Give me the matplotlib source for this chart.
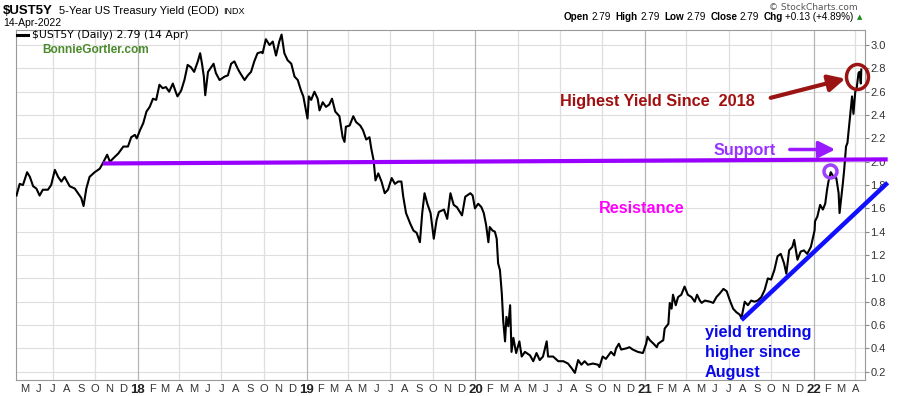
import matplotlib
matplotlib.use('Agg')
import matplotlib.pyplot as plt
from matplotlib.patches import Ellipse, FancyArrowPatch
from matplotlib.lines import Line2D
from matplotlib.transforms import IdentityTransform
import pandas as pd
import numpy as np

# ---------------- data ----------------
dates = [
    "2017-04-14", "2017-04-21", "2017-04-28", "2017-05-07", "2017-05-13", "2017-05-20", "2017-05-27",
    "2017-06-03", "2017-06-10", "2017-06-21", "2017-06-28", "2017-07-06", "2017-07-13", "2017-07-20",
    "2017-07-27", "2017-08-07", "2017-08-18", "2017-08-25", "2017-09-01", "2017-09-06", "2017-09-12",
    "2017-09-19", "2017-09-30", "2017-10-11", "2017-10-18", "2017-10-27", "2017-11-02", "2017-11-12",
    "2017-11-20", "2017-12-01", "2017-12-11", "2017-12-18", "2017-12-26", "2017-12-30",
    "2018-01-06", "2018-01-13", "2018-01-20", "2018-01-27", "2018-02-03", "2018-02-10", "2018-02-17",
    "2018-02-24", "2018-03-03", "2018-03-10", "2018-03-18", "2018-03-25", "2018-03-28", "2018-04-05",
    "2018-04-12", "2018-04-19", "2018-04-26", "2018-05-03", "2018-05-11", "2018-05-16", "2018-05-20",
    "2018-05-24", "2018-05-27", "2018-06-02", "2018-06-09", "2018-06-14", "2018-06-19", "2018-06-27",
    "2018-07-08", "2018-07-15", "2018-07-22", "2018-07-29", "2018-08-05", "2018-08-09", "2018-08-20",
    "2018-08-27", "2018-09-03", "2018-09-10", "2018-09-17", "2018-09-25", "2018-09-28", "2018-10-05",
    "2018-10-13", "2018-10-20", "2018-10-27", "2018-11-03", "2018-11-08", "2018-11-14", "2018-11-21",
    "2018-11-29", "2018-12-06", "2018-12-13", "2018-12-20", "2018-12-25",
    "2019-01-03", "2019-01-06", "2019-01-11", "2019-01-18", "2019-01-25", "2019-01-29", "2019-02-05",
    "2019-02-12", "2019-02-19", "2019-02-25", "2019-03-04", "2019-03-13", "2019-03-20", "2019-03-24",
    "2019-03-27", "2019-04-04", "2019-04-12", "2019-04-18", "2019-04-27", "2019-05-03", "2019-05-10",
    "2019-05-17", "2019-05-21", "2019-05-26", "2019-05-30", "2019-06-05", "2019-06-12", "2019-06-19",
    "2019-06-26", "2019-07-04", "2019-07-11", "2019-07-18", "2019-07-25", "2019-07-29", "2019-08-04",
    "2019-08-13", "2019-08-20", "2019-08-27", "2019-09-03", "2019-09-08", "2019-09-13", "2019-09-19",
    "2019-09-26", "2019-10-03", "2019-10-09", "2019-10-14", "2019-10-25", "2019-11-01", "2019-11-08",
    "2019-11-15", "2019-11-22", "2019-12-03", "2019-12-10", "2019-12-21", "2019-12-26", "2019-12-31",
    "2020-01-07", "2020-01-14", "2020-01-19", "2020-01-24", "2020-01-29", "2020-02-01", "2020-02-07",
    "2020-02-12", "2020-02-16", "2020-02-19", "2020-02-23", "2020-02-27", "2020-03-01", "2020-03-05",
    "2020-03-08", "2020-03-12", "2020-03-16", "2020-03-19", "2020-03-23", "2020-03-29", "2020-04-05",
    "2020-04-10", "2020-04-17", "2020-04-28", "2020-05-05", "2020-05-12", "2020-05-19", "2020-05-26",
    "2020-06-03", "2020-06-06", "2020-06-17", "2020-06-28", "2020-07-09", "2020-07-19", "2020-07-27",
    "2020-08-03", "2020-08-10", "2020-08-17", "2020-08-24", "2020-08-31", "2020-09-11", "2020-09-22",
    "2020-09-25", "2020-10-02", "2020-10-09", "2020-10-20", "2020-10-27", "2020-10-31", "2020-11-06",
    "2020-11-11", "2020-11-22", "2020-11-29", "2020-12-06", "2020-12-17", "2020-12-28",
    "2021-01-04", "2021-01-07", "2021-01-12", "2021-01-20", "2021-01-27", "2021-01-30", "2021-02-06",
    "2021-02-10", "2021-02-13", "2021-02-21", "2021-02-24", "2021-02-28", "2021-03-03", "2021-03-09",
    "2021-03-14", "2021-03-21", "2021-03-28", "2021-04-04", "2021-04-12", "2021-04-19", "2021-04-24",
    "2021-04-30", "2021-05-04", "2021-05-11", "2021-05-22", "2021-05-29", "2021-06-05", "2021-06-12",
    "2021-06-20", "2021-06-27", "2021-07-04", "2021-07-11", "2021-07-18", "2021-07-25", "2021-07-29",
    "2021-08-05", "2021-08-12", "2021-08-19", "2021-08-26", "2021-09-02", "2021-09-10", "2021-09-17",
    "2021-09-24", "2021-10-01", "2021-10-08", "2021-10-15", "2021-10-22", "2021-10-29", "2021-11-03",
    "2021-11-09", "2021-11-16", "2021-11-20", "2021-11-27", "2021-12-04", "2021-12-11", "2021-12-18",
    "2021-12-26", "2022-01-03", "2022-01-04", "2022-01-09", "2022-01-15", "2022-01-21", "2022-01-26",
    "2022-01-30", "2022-02-02", "2022-02-07", "2022-02-13", "2022-02-19", "2022-02-24", "2022-02-26",
    "2022-03-02", "2022-03-05", "2022-03-08", "2022-03-12", "2022-03-15", "2022-03-20", "2022-03-22",
    "2022-03-25", "2022-03-28", "2022-04-01", "2022-04-04", "2022-04-08", "2022-04-10", "2022-04-13",
    "2022-04-14",
]
yields = [
    1.71, 1.81, 1.80, 1.91, 1.87, 1.79, 1.77,
    1.71, 1.76, 1.76, 1.80, 1.93, 1.87, 1.83,
    1.87, 1.79, 1.77, 1.73, 1.69, 1.62, 1.77,
    1.87, 1.91, 1.94, 1.99, 2.06, 2.00, 2.04,
    2.07, 2.13, 2.13, 2.21, 2.23, 2.20,
    2.27, 2.33, 2.43, 2.47, 2.54, 2.53, 2.66,
    2.63, 2.64, 2.60, 2.67, 2.59, 2.56, 2.61,
    2.70, 2.83, 2.81, 2.77, 2.86, 2.93, 2.84,
    2.73, 2.57, 2.77, 2.81, 2.84, 2.76, 2.70,
    2.73, 2.74, 2.84, 2.86, 2.80, 2.77, 2.70,
    2.74, 2.77, 2.86, 2.93, 2.94, 2.93, 3.05,
    3.00, 3.03, 2.91, 3.03, 3.09, 2.93, 2.87,
    2.84, 2.73, 2.70, 2.61, 2.56,
    2.37, 2.56, 2.53, 2.60, 2.54, 2.44, 2.51,
    2.47, 2.49, 2.54, 2.43, 2.39, 2.21, 2.17,
    2.30, 2.31, 2.39, 2.34, 2.31, 2.27, 2.19,
    2.21, 2.11, 2.01, 1.84, 1.90, 1.83, 1.73,
    1.76, 1.86, 1.81, 1.83, 1.83, 1.70, 1.56,
    1.47, 1.41, 1.39, 1.31, 1.56, 1.73, 1.64,
    1.56, 1.34, 1.50, 1.57, 1.59, 1.51, 1.73,
    1.63, 1.61, 1.54, 1.70, 1.73, 1.71, 1.60,
    1.64, 1.61, 1.56, 1.46, 1.31, 1.44, 1.41,
    1.40, 1.34, 1.13, 1.07, 0.87, 0.64, 0.46,
    0.67, 0.59, 0.77, 0.37, 0.49, 0.36, 0.46,
    0.33, 0.37, 0.34, 0.29, 0.36, 0.30, 0.33,
    0.46, 0.33, 0.33, 0.29, 0.29, 0.27, 0.23,
    0.19, 0.30, 0.26, 0.29, 0.26, 0.27, 0.26,
    0.24, 0.33, 0.31, 0.37, 0.34, 0.40, 0.44,
    0.39, 0.40, 0.41, 0.39, 0.37, 0.36,
    0.44, 0.50, 0.47, 0.44, 0.41, 0.44, 0.46,
    0.47, 0.57, 0.61, 0.79, 0.74, 0.86, 0.77,
    0.84, 0.86, 0.93, 0.86, 0.84, 0.80, 0.86,
    0.81, 0.79, 0.81, 0.80, 0.79, 0.84, 0.87,
    0.91, 0.89, 0.81, 0.74, 0.71, 0.69, 0.66,
    0.80, 0.77, 0.81, 0.80, 0.81, 0.84, 0.90,
    1.00, 0.99, 1.07, 1.19, 1.21, 1.13, 1.04,
    1.24, 1.27, 1.33, 1.16, 1.23, 1.24, 1.21,
    1.27, 1.41, 1.49, 1.53, 1.63, 1.59, 1.64,
    1.76, 1.83, 1.91, 1.87, 1.86, 1.73, 1.56,
    1.70, 1.81, 1.93, 2.13, 2.16, 2.36, 2.44,
    2.56, 2.41, 2.60, 2.63, 2.76, 2.77, 2.67,
    2.79,
]
y_ticks = [0.2, 0.4, 0.6, 0.8, 1.0, 1.2, 1.4, 1.6, 1.8, 2.0, 2.2, 2.4, 2.6, 2.8, 3.0]
month_letters = ["J", "F", "M", "A", "M", "J", "J", "A", "S", "O", "N", "D"]

# support / trend lines (start, end)
support_dates = ["2017-10-18", "2022-06-10"]
support_vals = [1.985, 2.02]
trend_dates = ["2021-07-29", "2022-06-10"]
trend_vals = [0.643, 1.82]

# ---------------- figure ----------------
W, H = 900, 396
fig = plt.figure(figsize=(W / 100, H / 100), dpi=100)
fig.patch.set_facecolor('white')
AL, AR, AT, AB = 16, 865, 30, 380
ax = fig.add_axes([AL / W, 1 - AB / H, (AR - AL) / W, (AB - AT) / H])

FONT = 'Liberation Sans'

x = pd.to_datetime(dates)
xmin, xmax = pd.Timestamp('2017-04-13'), pd.Timestamp('2022-04-22')
ax.set_xlim(xmin, xmax)
ax.set_ylim(0.129, 3.129)

# grid
for v in y_ticks:
    ax.axhline(v, color='#dedede', lw=0.8, zorder=0)
for q in pd.date_range('2017-07-01', '2022-04-01', freq='QS'):
    c = '#b5b5b5' if q.month == 1 else '#dedede'
    ax.axvline(q, color=c, lw=0.9, zorder=0)

ax.plot(x, yields, color='black', lw=1.5, zorder=3)

# y axis on right
ax.yaxis.tick_right()
ax.set_yticks(y_ticks)
ax.set_yticklabels([f"{v:.1f}" for v in y_ticks], fontfamily=FONT, fontsize=8, color='#333333')
ax.tick_params(axis='y', direction='out', length=3, width=0.8, color='#888888', pad=1)

# x axis month labels
months = pd.date_range('2017-05-01', '2022-04-01', freq='MS')
labels = [f"{m.year % 100:02d}" if m.month == 1 else month_letters[m.month - 1] for m in months]
ax.set_xticks(months)
ax.set_xticklabels(labels, fontfamily=FONT, fontsize=8, color='#333333')
for lab, m in zip(ax.get_xticklabels(), months):
    if m.month == 1:
        lab.set_fontweight('bold')
        lab.set_fontsize(9.5)
        lab.set_color('#222222')
ax.tick_params(axis='x', length=0, pad=3)

for s in ax.spines.values():
    s.set_color('#999999')
    s.set_linewidth(0.8)

# support & trend lines
ax.plot(pd.to_datetime(support_dates), support_vals, color='#9a00ff', lw=3, clip_on=False, zorder=4,
        solid_capstyle='butt')
ax.plot(pd.to_datetime(trend_dates), trend_vals, color='#1010ff', lw=3.2, clip_on=False, zorder=4,
        solid_capstyle='butt')


def fp(px, py):
    return (px / W, 1 - py / H)


ident = IdentityTransform()

# circles
fig.add_artist(Ellipse((830.5, H - 171.5), 13, 13, fill=False, ec='#a040ff', lw=2.5, transform=ident))
fig.add_artist(Ellipse((857.5, H - 77), 22, 25, fill=False, ec='#9b1414', lw=2.5, transform=ident))

# arrows
fig.add_artist(FancyArrowPatch(
    (768, H - 98.5), (848, H - 78), transform=ident, arrowstyle='-|>,head_length=10,head_width=5',
    color='#9b1414', lw=3, mutation_scale=1))
fig.add_artist(FancyArrowPatch(
    (787, H - 149.5), (838, H - 149.5), transform=ident, arrowstyle='-|>,head_length=10,head_width=5',
    color='#9a1aff', lw=2.5, mutation_scale=1))

# annotation texts
AFS = 11.7
fig.text(*fp(560, 106), 'Highest Yield Since  2018', fontfamily=FONT, fontweight='bold', fontsize=AFS,
         color='#a01010', va='baseline', ha='left')
fig.text(*fp(714, 155), 'Support', fontfamily=FONT, fontweight='bold', fontsize=AFS,
         color='#9933ff', va='baseline', ha='left')
fig.text(*fp(599, 213), 'Resistance', fontfamily=FONT, fontweight='bold', fontsize=AFS,
         color='#ff00ff', va='baseline', ha='left')
for yy, s in [(337, 'yield trending'), (357, 'higher since'), (376.5, 'August')]:
    fig.text(*fp(705, yy), s, fontfamily=FONT, fontweight='bold', fontsize=AFS,
             color='#0a0ae6', va='baseline', ha='left')

# header
r = fig.canvas.get_renderer()


def chain(parts, x0, y, align='left'):
    objs = []
    xx = x0
    for s, kw, gap in parts:
        t = fig.text(*fp(xx, y), s, va='baseline', ha='left', **kw)
        bb = t.get_window_extent(r)
        xx += bb.width + gap
        objs.append(t)
    if align == 'right':
        shift = xx - x0
        for t in objs:
            px, py = t.get_position()
            t.set_position((px - shift / W, py))
    return objs


chain([('$UST5Y', dict(fontfamily=FONT, fontweight='bold', fontsize=9.5, color='black'), 6),
       ('5-Year US Treasury Yield (EOD)', dict(fontfamily=FONT, fontsize=8, color='black'), 4),
       ('INDX', dict(fontfamily=FONT, fontsize=6.5, color='black'), 0)], 3, 14.5)
fig.text(*fp(3, 26), '14-Apr-2022', fontfamily=FONT, fontsize=7.5, color='black', va='baseline')

b = dict(fontfamily=FONT, fontweight='bold', fontsize=7.1, color='black')
n = dict(fontfamily=FONT, fontsize=7.1, color='black')
chain([('Open', b, 2.5), ('2.79', n, 4.5), ('High', b, 2.5), ('2.79', n, 4.5), ('Low', b, 2.5), ('2.79', n, 4.5),
       ('Close', b, 2.5), ('2.79', n, 4.5), ('Chg', b, 2.5), ('+0.13 (+4.89%)', n, 3),
       ('▲', dict(fontfamily='DejaVu Sans', fontsize=5, color='#1a8a1a'), 0)], 862, 19.5, align='right')
fig.text(*fp(858, 7), '© StockCharts.com', fontfamily='DejaVu Sans', fontsize=6.5, color='#555555',
         va='center', ha='right')

# legend inside plot
fig.add_artist(Line2D([17 / W, 28 / W], [1 - 35 / H] * 2, color='black', lw=2.2))
fig.text(*fp(32, 35), '$UST5Y (Daily) 2.79 (14 Apr)', fontfamily='DejaVu Sans', fontsize=7.8,
         color='black', va='center')
fig.text(*fp(42, 50), 'BonnieGortler.com', fontfamily=FONT, fontweight='bold', fontsize=8.6,
         color='#4a8a2a', va='center')

fig.savefig('out.png', dpi=100, facecolor='white')
